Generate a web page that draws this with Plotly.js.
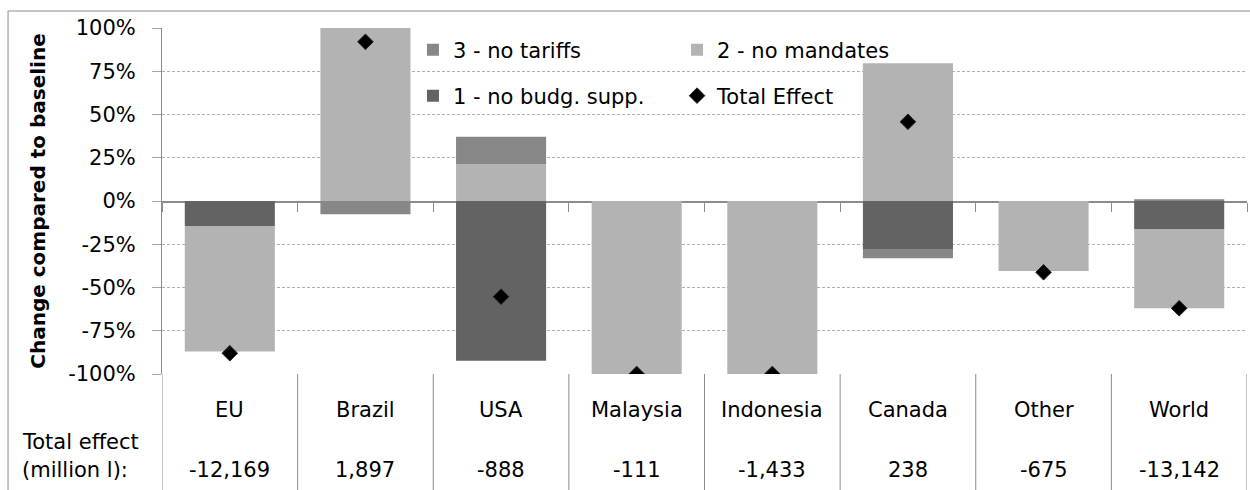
<!DOCTYPE html>
<html>
<head>
<meta charset="utf-8">
<script src="https://cdn.plot.ly/plotly-3.0.1.min.js"></script>
<style>
  html, body { margin: 0; padding: 0; background: #ffffff; }
  #chart { width: 1250px; height: 490px; }
</style>
</head>
<body>
<div id="chart"></div>
<script>
// ---- data ----
const categories = ['EU', 'Brazil', 'USA', 'Malaysia', 'Indonesia', 'Canada', 'Other', 'World'];
const noBudgSupp = [-14.5, 0, -92.3, 0, 0, -27.7, 0, -16.5];   // 1 - no budg. supp. (%)
const noMandates = [-72.5, 100, 21.2, -100, -100, 79.6, -40.5, -45.5]; // 2 - no mandates (%)
const noTariffs  = [0, -7.7, 16.0, 0, 0, -5.4, 0, 1.0];        // 3 - no tariffs (%)
const totalEffect = [-88, 92, -55.3, -100, -100, 45.8, -41.2, -62]; // Total Effect (%)
const totalLiters = ['-12,169', '1,897', '-888', '-111', '-1,433', '238', '-675', '-13,142'];
const yTickVals = [-100, -75, -50, -25, 0, 25, 50, 75, 100];
const yTickText = ['-100%', '-75%', '-50%', '-25%', '0%', '25%', '50%', '75%', '100%'];

const FONT = 'DejaVu Sans, Open Sans, sans-serif';
const FS = 21;
const C_DARK = '#636363', C_LIGHT = '#b3b3b3', C_MED = '#878787';
const AXIS_GREY = '#8c8c8c';

const traces = [
  { type: 'bar', name: '1 - no budg. supp.', x: categories, y: noBudgSupp,
    marker: { color: C_DARK, line: { width: 0 } }, legend: 'legend3' },
  { type: 'bar', name: '2 - no mandates', x: categories, y: noMandates,
    marker: { color: C_LIGHT, line: { width: 0 } }, legend: 'legend2' },
  { type: 'bar', name: '3 - no tariffs', x: categories, y: noTariffs,
    marker: { color: C_MED, line: { width: 0 } }, legend: 'legend' },
  { type: 'scatter', mode: 'markers', name: 'Total Effect', x: categories, y: totalEffect,
    marker: { symbol: 'diamond', size: 12, color: '#000000', line: { color: '#222222', width: 1 } },
    legend: 'legend4' }
];

// table-like annotations below the plot
const annotations = [];
categories.forEach((c, i) => {
  annotations.push({ xref: 'x', yref: 'paper', x: c, y: -0.104, text: c, showarrow: false,
    xanchor: 'center', yanchor: 'middle', font: { family: FONT, size: FS, color: '#000' } });
  annotations.push({ xref: 'x', yref: 'paper', x: c, y: -0.277, text: totalLiters[i], showarrow: false,
    xanchor: 'center', yanchor: 'middle', font: { family: FONT, size: FS, color: '#000' } });
});
annotations.push({ xref: 'paper', yref: 'paper', x: -0.1309, y: -0.1965, text: 'Total effect',
  showarrow: false, xanchor: 'left', yanchor: 'middle', font: { family: FONT, size: FS, color: '#000' } });
annotations.push({ xref: 'paper', yref: 'paper', x: -0.1309, y: -0.277, text: '(million l):',
  showarrow: false, xanchor: 'left', yanchor: 'middle', font: { family: FONT, size: FS, color: '#000' } });

// vertical separators in the table area + outer frame
const shapes = [];
for (let i = 0; i <= categories.length; i++) {
  shapes.push({ type: 'line', xref: 'x', yref: 'paper', x0: i - 0.5, x1: i - 0.5, y0: 0, y1: -0.45,
    line: { color: AXIS_GREY, width: 1 } });
}
shapes.push({ type: 'rect', xref: 'paper', yref: 'paper', x0: -0.1419, x1: 1.2, y0: -0.6, y1: 1.0491,
  line: { color: AXIS_GREY, width: 1 }, fillcolor: 'rgba(0,0,0,0)' });

const legendBase = {
  orientation: 'h', bgcolor: 'rgba(0,0,0,0)', borderwidth: 0,
  font: { family: FONT, size: FS, color: '#000' }, xanchor: 'left', yanchor: 'middle'
};

const layout = {
  width: 1250, height: 490,
  margin: { l: 162, r: 3, t: 28, b: 116 },
  paper_bgcolor: '#ffffff', plot_bgcolor: '#ffffff',
  barmode: 'relative', bargap: 0.336,
  showlegend: true,
  legend:  Object.assign({}, legendBase, { x: 0.2313, y: 0.9364 }),
  legend2: Object.assign({}, legendBase, { x: 0.4747, y: 0.9364 }),
  legend3: Object.assign({}, legendBase, { x: 0.2313, y: 0.8035 }),
  legend4: Object.assign({}, legendBase, { x: 0.4747, y: 0.8035 }),
  xaxis: {
    type: 'category', anchor: 'free', position: 0.5,
    showline: true, linecolor: AXIS_GREY, linewidth: 1.5,
    tickson: 'boundaries', ticks: 'outside', ticklen: 9, tickcolor: AXIS_GREY, tickwidth: 1,
    showticklabels: false, showgrid: false, zeroline: false, layer: 'below traces',
    range: [-0.5, 7.5], fixedrange: true
  },
  yaxis: {
    range: [-100, 100], tickmode: 'array', tickvals: yTickVals, ticktext: yTickText,
    showline: true, linecolor: AXIS_GREY, linewidth: 1,
    ticks: 'outside', ticklen: 9, tickcolor: '#a6a6a6', ticklabelstandoff: 12,
    showgrid: true, gridcolor: '#b0b0b0', gridwidth: 1, griddash: '3px,2px',
    zeroline: false,
    tickfont: { family: FONT, size: FS, color: '#000' },
    title: { text: 'Change compared to baseline', standoff: 17,
      font: { family: FONT, size: 20, color: '#000', weight: 'bold' } },
    fixedrange: true
  },
  annotations: annotations,
  shapes: shapes
};

Plotly.newPlot('chart', traces, layout, { displayModeBar: false, staticPlot: true });
</script>
</body>
</html>
